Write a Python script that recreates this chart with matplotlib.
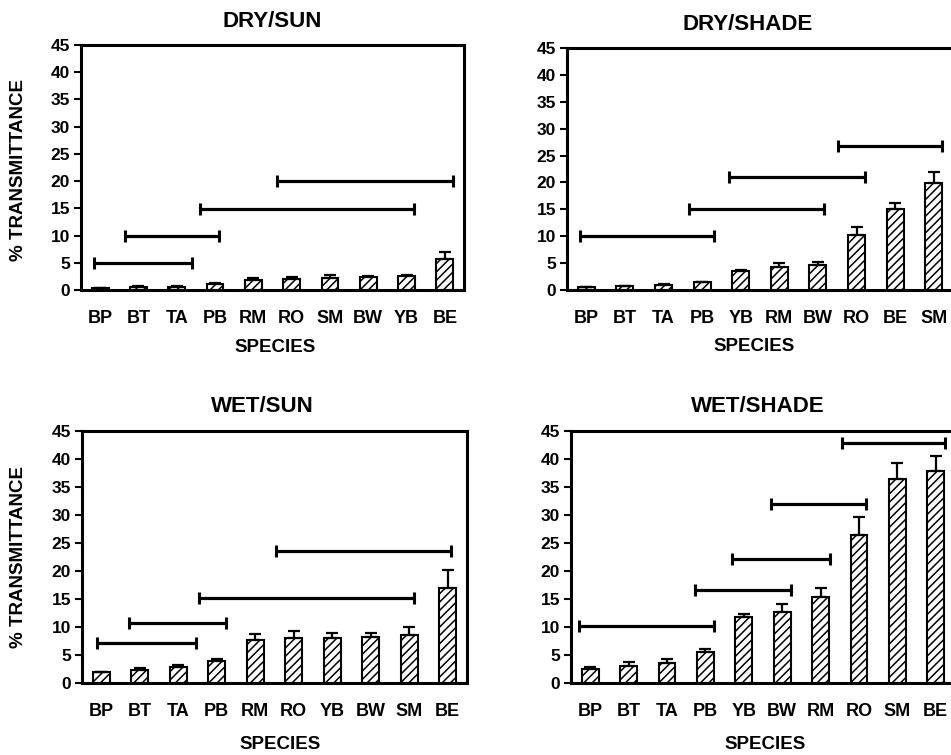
import numpy as np
import matplotlib
matplotlib.use('Agg')
import matplotlib.pyplot as plt

plt.rcParams['font.family'] = ['Liberation Sans', 'DejaVu Sans']
plt.rcParams['font.weight'] = 'bold'
plt.rcParams['hatch.linewidth'] = 1.1

# DRY/SUN
dry_sun_species = ['BP', 'BT', 'TA', 'PB', 'RM', 'RO', 'SM', 'BW', 'YB', 'BE']
dry_sun_mean = [0.3, 0.6, 0.6, 1.1, 1.8, 2.1, 2.2, 2.4, 2.5, 5.7]
dry_sun_err = [0.1, 0.1, 0.1, 0.1, 0.4, 0.3, 0.6, 0.1, 0.2, 1.2]
dry_sun_grp_start = [-0.15, 0.65, 2.6, 4.62]
dry_sun_grp_end = [2.4, 3.1, 8.2, 9.2]
dry_sun_grp_y = [5.0, 10.0, 14.8, 20.0]

# DRY/SHADE
dry_shade_species = ['BP', 'BT', 'TA', 'PB', 'YB', 'RM', 'BW', 'RO', 'BE', 'SM']
dry_shade_mean = [0.5, 0.7, 0.9, 1.4, 3.6, 4.3, 4.6, 10.3, 15.0, 19.9]
dry_shade_err = [0.1, 0.1, 0.2, 0.1, 0.2, 0.8, 0.6, 1.4, 1.2, 2.0]
dry_shade_grp_start = [-0.16, 2.67, 3.69, 6.52]
dry_shade_grp_end = [3.32, 6.17, 7.23, 9.21]
dry_shade_grp_y = [10.0, 15.1, 21.1, 26.8]

# WET/SUN
wet_sun_species = ['BP', 'BT', 'TA', 'PB', 'RM', 'RO', 'YB', 'BW', 'SM', 'BE']
wet_sun_mean = [1.9, 2.4, 2.9, 3.9, 7.6, 8.1, 8.1, 8.3, 8.5, 17.0]
wet_sun_err = [0.1, 0.2, 0.3, 0.4, 1.1, 1.1, 0.8, 0.7, 1.5, 3.1]
wet_sun_grp_start = [-0.12, 0.71, 2.54, 4.53]
wet_sun_grp_end = [2.47, 3.25, 8.12, 9.08]
wet_sun_grp_y = [7.2, 10.7, 15.1, 23.6]

# WET/SHADE
wet_shade_species = ['BP', 'BT', 'TA', 'PB', 'YB', 'BW', 'RM', 'RO', 'SM', 'BE']
wet_shade_mean = [2.5, 3.0, 3.5, 5.6, 11.7, 12.6, 15.3, 26.4, 36.4, 37.9]
wet_shade_err = [0.3, 0.7, 0.7, 0.5, 0.7, 1.5, 1.6, 3.2, 2.9, 2.6]
wet_shade_grp_start = [-0.3, 2.72, 3.68, 4.7, 6.56]
wet_shade_grp_end = [3.23, 5.22, 6.24, 7.18, 9.23]
wet_shade_grp_y = [10.2, 16.6, 22.1, 31.9, 42.8]


def draw_panel(ax, title, species, mean, err, g_start, g_end, g_y,
               title_x, title_pad, xlabel_xy):
    x = np.arange(len(species))
    ax.bar(x, mean, width=0.44, color='white', edgecolor='black',
           hatch='////', linewidth=1.5, zorder=2,
           yerr=[np.zeros(len(err)), err],
           error_kw=dict(ecolor='black', elinewidth=1.6, capsize=4.5, capthick=1.6))

    # significance groupings
    g_start = np.array(g_start)
    g_end = np.array(g_end)
    ax.errorbar((g_start + g_end) / 2, g_y, xerr=(g_end - g_start) / 2,
                fmt='none', ecolor='black', elinewidth=2.3, capsize=4.5, capthick=2.2)

    ax.set_xlim(-0.5, len(species) - 0.5)
    ax.set_ylim(0, 45)
    ax.set_yticks(np.arange(0, 50, 5))
    ax.set_xticks(x)
    ax.set_xticklabels(species, fontsize=13)
    ax.tick_params(axis='x', length=0, pad=14.5)
    ax.tick_params(axis='y', length=5, width=1.5, pad=3, labelsize=12.5)
    for s in ax.spines.values():
        s.set_linewidth(2.2)
    ax.set_title(title, fontsize=16, fontweight='bold', x=title_x, pad=title_pad)
    ax.set_xlabel('SPECIES', fontsize=13.5, fontweight='bold')
    ax.xaxis.set_label_coords(*xlabel_xy)


fig = plt.figure(figsize=(9.51, 7.55), dpi=100)
W, H = 951.0, 755.0

ax1 = fig.add_axes([81 / W, 1 - 290 / H, 383 / W, 245 / H])
ax2 = fig.add_axes([567 / W, 1 - 290 / H, 386 / W, 242 / H])
ax3 = fig.add_axes([82 / W, 1 - 683 / H, 385 / W, 252 / H])
ax4 = fig.add_axes([571 / W, 1 - 683 / H, 384 / W, 252 / H])

draw_panel(ax1, 'DRY/SUN', dry_sun_species, dry_sun_mean, dry_sun_err,
           dry_sun_grp_start, dry_sun_grp_end, dry_sun_grp_y,
           0.50, 13, (0.507, -0.2))
draw_panel(ax2, 'DRY/SHADE', dry_shade_species, dry_shade_mean, dry_shade_err,
           dry_shade_grp_start, dry_shade_grp_end, dry_shade_grp_y,
           0.469, 13, (0.484, -0.2))
draw_panel(ax3, 'WET/SUN', wet_sun_species, wet_sun_mean, wet_sun_err,
           wet_sun_grp_start, wet_sun_grp_end, wet_sun_grp_y,
           0.468, 14, (0.514, -0.21))
draw_panel(ax4, 'WET/SHADE', wet_shade_species, wet_shade_mean, wet_shade_err,
           wet_shade_grp_start, wet_shade_grp_end, wet_shade_grp_y,
           0.487, 14, (0.505, -0.21))

fig.text(19 / W, 1 - 170 / H, '% TRANSMITTANCE', rotation=90, ha='center',
         va='center', fontsize=13.5, fontweight='bold')
fig.text(19 / W, 1 - 557 / H, '% TRANSMITTANCE', rotation=90, ha='center',
         va='center', fontsize=13.5, fontweight='bold')

fig.savefig('out.png', dpi=100)
